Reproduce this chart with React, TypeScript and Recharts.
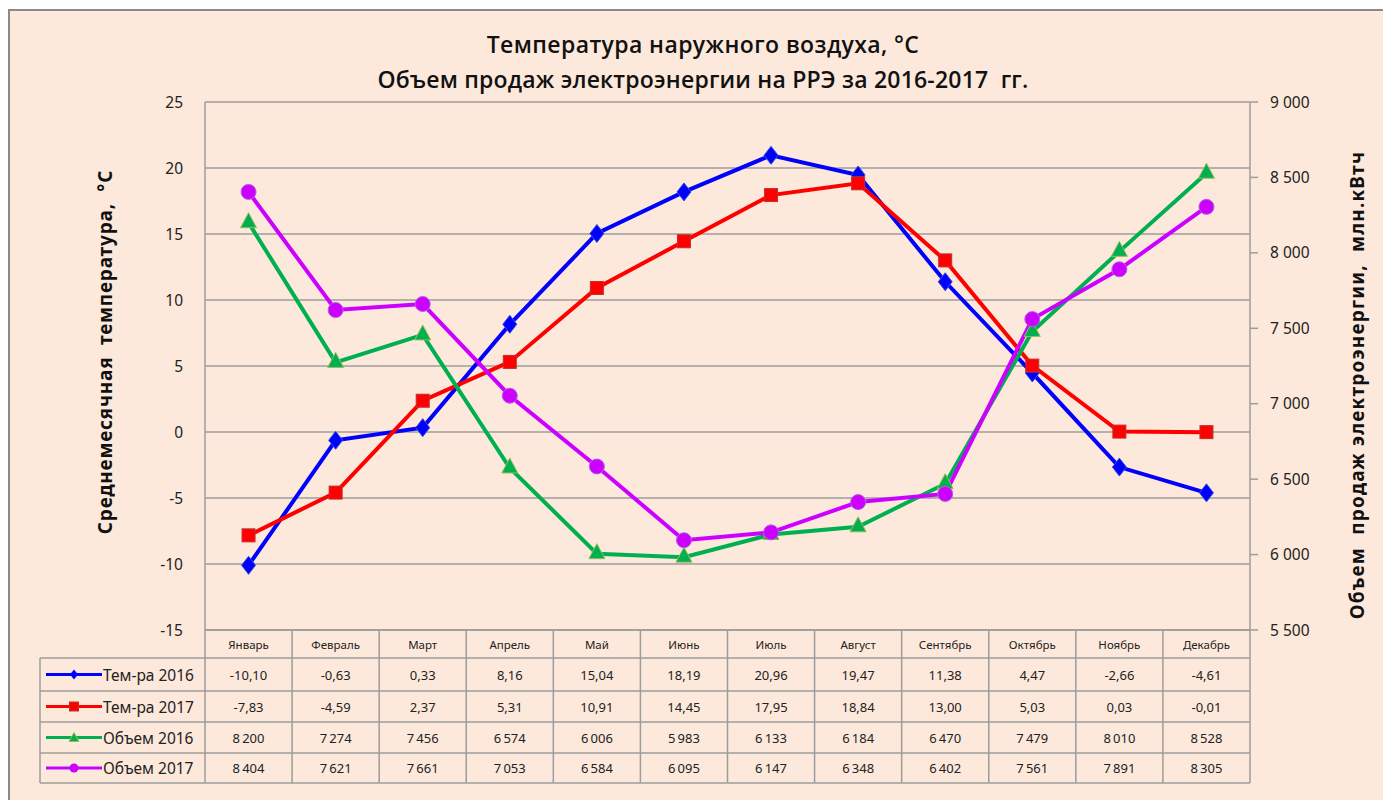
import React from 'react';
import { LineChart, Line, XAxis, YAxis, CartesianGrid } from 'recharts';

const months = ['Январь', 'Февраль', 'Март', 'Апрель', 'Май', 'Июнь', 'Июль', 'Август', 'Сентябрь', 'Октябрь', 'Ноябрь', 'Декабрь'];
const temp2016 = [-10.1, -0.63, 0.33, 8.16, 15.04, 18.19, 20.96, 19.47, 11.38, 4.47, -2.66, -4.61];
const temp2017 = [-7.83, -4.59, 2.37, 5.31, 10.91, 14.45, 17.95, 18.84, 13.0, 5.03, 0.03, -0.01];
const vol2016 = [8200, 7274, 7456, 6574, 6006, 5983, 6133, 6184, 6470, 7479, 8010, 8528];
const vol2017 = [8404, 7621, 7661, 7053, 6584, 6095, 6147, 6348, 6402, 7561, 7891, 8305];
const leftTicks = [-15, -10, -5, 0, 5, 10, 15, 20, 25];
const rightTicks = [5500, 6000, 6500, 7000, 7500, 8000, 8500, 9000];
const seriesNames = ['Тем-ра 2016', 'Тем-ра 2017', 'Объем 2016', 'Объем 2017'];

const data = months.map((m, i) => ({
  month: m,
  t16: temp2016[i],
  t17: temp2017[i],
  v16: vol2016[i],
  v17: vol2017[i],
}));

const W = 1383;
const H = 800;
const PLOT_L = 205;
const PLOT_R = 1250;
const BAND = (PLOT_R - PLOT_L) / months.length;
const ROWS = [0, 28, 61, 92, 123, 153];
const FONT = '"Noto Sans", "Open Sans", sans-serif';
const TITLE_FONT = '"Open Sans", "Noto Sans", sans-serif';
const BLUE = '#0000FF';
const RED = '#FF0000';
const GREEN = '#00B050';
const PURPLE = '#CC00FF';
const GRID = '#9C9C9C';

const fmtT = (v: number) => v.toFixed(2).replace('.', ',');
const fmtV = (v: number) => {
  const th = Math.floor(v / 1000);
  const rest = String(v % 1000).padStart(3, '0');
  return `${th}\u2009${rest}`;
};
const fmtAxisV = (v: number) => {
  const th = Math.floor(v / 1000);
  const rest = String(v % 1000).padStart(3, '0');
  return `${th} ${rest}`;
};

const Diamond = (p: any) => {
  const { cx, cy } = p;
  if (cx == null || cy == null) return null;
  return <polygon points={`${cx},${cy - 9} ${cx + 7},${cy} ${cx},${cy + 9} ${cx - 7},${cy}`} fill={BLUE} stroke="#3050E0" strokeWidth={1} />;
};
const Square = (p: any) => {
  const { cx, cy } = p;
  if (cx == null || cy == null) return null;
  return <rect x={cx - 6.5} y={cy - 6.5} width={13} height={13} fill={RED} stroke="#C03030" strokeWidth={1} />;
};
const Triangle = (p: any) => {
  const { cx, cy } = p;
  if (cx == null || cy == null) return null;
  return <polygon points={`${cx},${cy - 10} ${cx + 8},${cy + 5} ${cx - 8},${cy + 5}`} fill={GREEN} stroke="#9BBB59" strokeWidth={1} />;
};
const Circle = (p: any) => {
  const { cx, cy } = p;
  if (cx == null || cy == null) return null;
  return <circle cx={cx} cy={cy} r={7.5} fill={PURPLE} stroke="#B060E0" strokeWidth={1} />;
};

const TableTick = (props: any) => {
  const { x, y, payload } = props;
  const i = payload.index;
  const l = x - BAND / 2;
  const r = x + BAND / 2;
  const values = [fmtT(temp2016[i]), fmtT(temp2017[i]), fmtV(vol2016[i]), fmtV(vol2017[i])];
  return (
    <g>
      <line x1={l} x2={l} y1={y} y2={y + ROWS[5]} stroke={GRID} strokeWidth={1.5} />
      {i === months.length - 1 && <line x1={r} x2={r} y1={y} y2={y + ROWS[5]} stroke={GRID} strokeWidth={1.5} />}
      {ROWS.slice(1).map((ry, k) => (
        <line key={k} x1={l} x2={r} y1={y + ry} y2={y + ry} stroke={GRID} strokeWidth={1.5} />
      ))}
      <text x={x} y={y + 14} textAnchor="middle" dominantBaseline="central" fontSize={11.5} fontFamily={FONT} fill="#222">
        {payload.value}
      </text>
      {values.map((v, k) => (
        <text key={k} x={x} y={y + (ROWS[k + 1] + ROWS[k + 2]) / 2} textAnchor="middle" dominantBaseline="central" fontSize={13} fontFamily={FONT} fill="#222">
          {v}
        </text>
      ))}
    </g>
  );
};

const legendMarkers = [
  (cx: number, cy: number) => <polygon points={`${cx},${cy - 5} ${cx + 4},${cy} ${cx},${cy + 5} ${cx - 4},${cy}`} fill={BLUE} />,
  (cx: number, cy: number) => <rect x={cx - 4.5} y={cy - 4.5} width={9} height={9} fill={RED} stroke="#C03030" />,
  (cx: number, cy: number) => <polygon points={`${cx},${cy - 5} ${cx + 5},${cy + 4} ${cx - 5},${cy + 4}`} fill={GREEN} stroke="#9BBB59" />,
  (cx: number, cy: number) => <circle cx={cx} cy={cy} r={4.5} fill={PURPLE} />,
];
const legendColors = [BLUE, RED, GREEN, PURPLE];

export default function App() {
  const tableTop = 630;
  return (
    <div style={{ position: 'absolute', left: 0, top: 0, width: W, height: H, background: '#FFFFFF', overflow: 'hidden' }}>
      <div style={{ position: 'absolute', left: 8, top: 9, width: W, height: H, background: '#FDE9DB', borderLeft: '2px solid #8A8A8A', borderTop: '2px solid #8A8A8A' }} />
      <div style={{ position: 'absolute', left: 0, top: 0 }}>
        <LineChart width={W} height={H} data={data} margin={{ top: 102, bottom: 17, left: 145, right: 63 }}>
          <CartesianGrid yAxisId="left" vertical={false} stroke={GRID} strokeWidth={1.5} />
          <XAxis
            dataKey="month"
            scale="band"
            height={153}
            tickLine={false}
            tickSize={0}
            tickMargin={0}
            interval={0}
            axisLine={{ stroke: GRID, strokeWidth: 1.5 }}
            tick={<TableTick />}
          />
          <YAxis
            yAxisId="left"
            width={60}
            domain={[-15, 25]}
            ticks={leftTicks}
            allowDataOverflow
            tickLine={false}
            axisLine={{ stroke: GRID, strokeWidth: 1.5 }}
            tickMargin={16}
            tick={{ fontSize: 15.5, fill: '#222', fontFamily: FONT }}
          />
          <YAxis
            yAxisId="right"
            orientation="right"
            width={70}
            domain={[5500, 9000]}
            ticks={rightTicks}
            allowDataOverflow
            tickSize={8}
            tickLine={{ stroke: GRID, strokeWidth: 1.5 }}
            axisLine={{ stroke: GRID, strokeWidth: 1.5 }}
            tickMargin={12}
            tickFormatter={fmtAxisV}
            tick={{ fontSize: 15.5, fill: '#222', fontFamily: FONT }}
          />
          <Line yAxisId="left" dataKey="t16" stroke={BLUE} strokeWidth={4} dot={<Diamond />} activeDot={false} isAnimationActive={false} />
          <Line yAxisId="left" dataKey="t17" stroke={RED} strokeWidth={4} dot={<Square />} activeDot={false} isAnimationActive={false} />
          <Line yAxisId="right" dataKey="v16" stroke={GREEN} strokeWidth={4} dot={<Triangle />} activeDot={false} isAnimationActive={false} />
          <Line yAxisId="right" dataKey="v17" stroke={PURPLE} strokeWidth={4} dot={<Circle />} activeDot={false} isAnimationActive={false} />
        </LineChart>
      </div>
      <svg width={W} height={H} style={{ position: 'absolute', left: 0, top: 0, pointerEvents: 'none' }}>
        <text x={703} y={53} textAnchor="middle" fontSize={23} fontWeight={600} letterSpacing={0.4} fontFamily={TITLE_FONT} fill="#111">Температура наружного воздуха, °С</text>
        <text x={703} y={88} textAnchor="middle" fontSize={23} fontWeight={600} letterSpacing={0.2} fontFamily={TITLE_FONT} fill="#111" style={{ whiteSpace: 'pre' }}>{'Объем продаж электроэнергии на РРЭ за 2016-2017  гг.'}</text>
        <text transform="translate(112,352) rotate(-90)" textAnchor="middle" fontSize={19} fontWeight="bold" letterSpacing={0.8} fontFamily={FONT} fill="#111" style={{ whiteSpace: 'pre' }}>
          {'Среднемесячная  температура,  °С'}
        </text>
        <text transform="translate(1364,385) rotate(-90)" textAnchor="middle" fontSize={19} fontWeight="bold" letterSpacing={1.2} fontFamily={FONT} fill="#111" style={{ whiteSpace: 'pre' }}>
          {'Объем  продаж электроэнергии,  млн.кВтч'}
        </text>
        <line x1={40} x2={PLOT_L} y1={tableTop + ROWS[1]} y2={tableTop + ROWS[1]} stroke={GRID} strokeWidth={1.5} />
        <line x1={40} x2={40} y1={tableTop + ROWS[1]} y2={tableTop + ROWS[5]} stroke={GRID} strokeWidth={1.5} />
        {seriesNames.map((name, k) => {
          const cy = tableTop + (ROWS[k + 1] + ROWS[k + 2]) / 2;
          return (
            <g key={k}>
              <line x1={40} x2={PLOT_L} y1={tableTop + ROWS[k + 2]} y2={tableTop + ROWS[k + 2]} stroke={GRID} strokeWidth={1.5} />
              <line x1={46} x2={102} y1={cy} y2={cy} stroke={legendColors[k]} strokeWidth={3} />
              {legendMarkers[k](74, cy)}
              <text x={103} y={cy} dominantBaseline="central" fontSize={15.5} fontFamily={FONT} fill="#222">{name}</text>
            </g>
          );
        })}
      </svg>
    </div>
  );
}
